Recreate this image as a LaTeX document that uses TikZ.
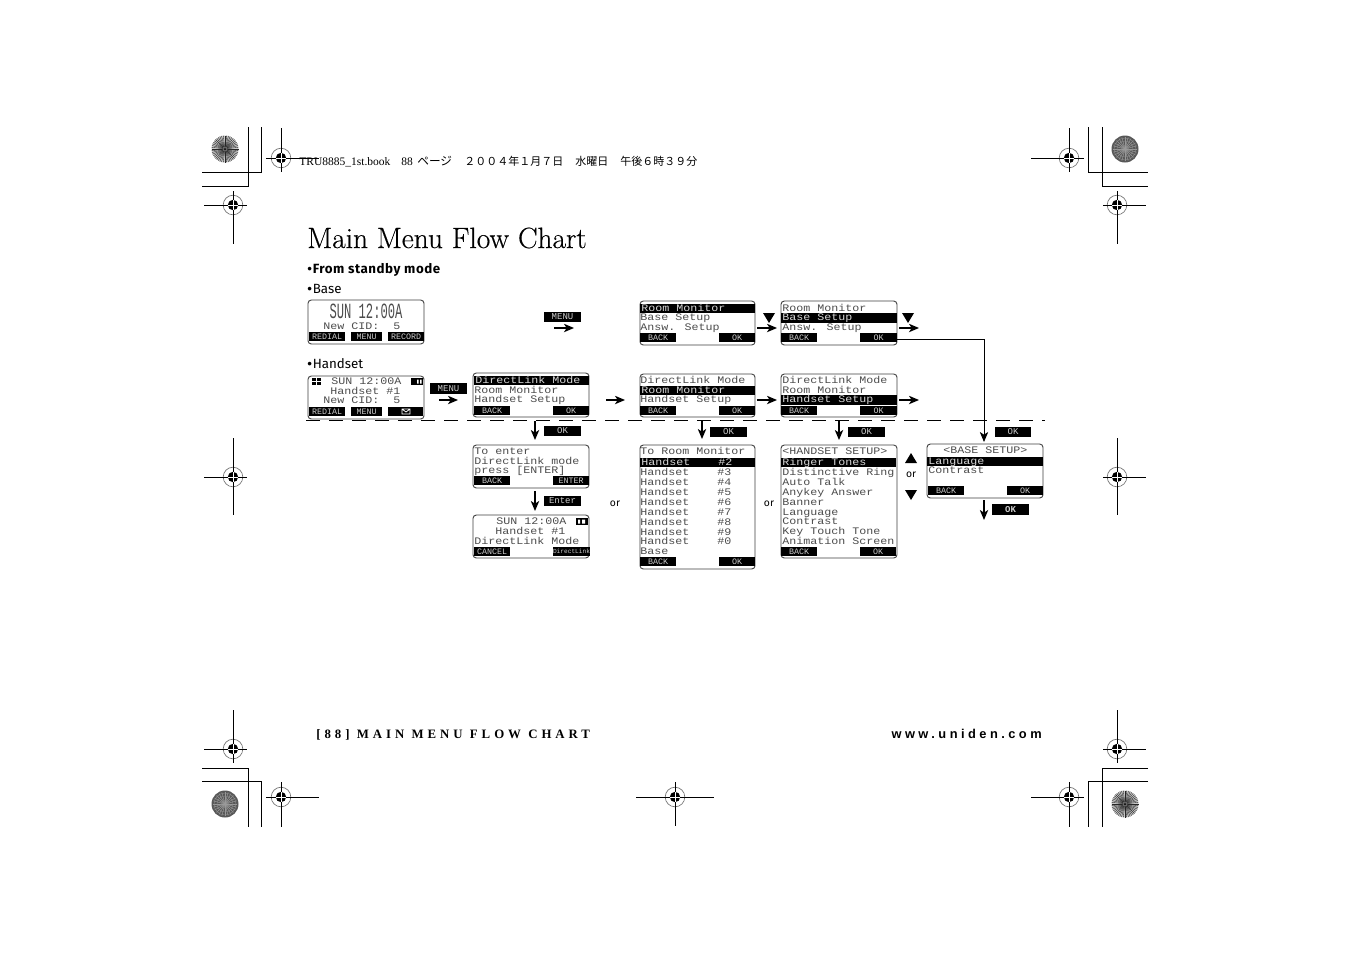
\documentclass[tikz,border=0pt]{standalone}
\usepackage{fontspec}
\usetikzlibrary{arrows.meta,calc}
\setmainfont{Latin Modern Roman}
\newfontfamily\titlefont[FakeBold=0.35]{Latin Modern Roman}
\newfontfamily\lcdfont[FakeStretch=1.167]{Liberation Mono}
\newfontfamily\keyfont{Liberation Mono}
\newfontfamily\uifont{Fira Sans}
\newfontfamily\uispaced[LetterSpace=4]{Fira Sans}
\newfontfamily\cjkfont{Noto Sans CJK JP}
\newfontfamily\serifb{Liberation Serif}
\newfontfamily\sansb{Liberation Sans}
\newcount\nid
\newcommand{\bigdot}{{\sansb\mdseries\char"2022}\kern0.5pt}
\tikzset{
  x=0.6pt,y=-0.6pt,
  lcdbox/.style={draw=black!75,line width=0.55pt,rounded corners=2pt,fill=white,inner sep=0pt},
  lcdtxt/.style={anchor=west,inner sep=0pt,text=black!70,text height=4.2pt,text depth=0.8pt,font=\lcdfont\fontsize{6}{6}\selectfont},
  lcdinv/.style={lcdtxt,text=white!85!black},
  keybox/.style={fill=black,inner sep=0pt,text=white!80!black,font=\keyfont\fontsize{5}{5}\selectfont},
  labbox/.style={fill=black,inner sep=0pt,text=white!80!black,font=\keyfont\fontsize{5.4}{5.4}\selectfont},
  flow/.style={draw=black,line width=0.75pt,-{Stealth[length=6pt,width=5pt,inset=1.6pt]}},
  flowthin/.style={draw=black,line width=0.5pt,-{Stealth[length=6pt,width=5pt,inset=1.6pt]}},
  tri/.style={fill=black,draw=none},
  ortext/.style={inner sep=0pt,font=\uifont\fontsize{6.2}{6.2}\selectfont},
  head/.style={inner sep=0pt,anchor=west},
  cropline/.style={draw=black,line width=0.55pt}
}
% screen outline: name x1 y1 x2 y2
\newcommand{\lcd}[5]{\node[lcdbox,minimum width={(#4-#2)*0.6pt},minimum height={(#5-#3)*0.6pt}] (#1) at ({(#2+#4)/2},{(#3+#5)/2}) {};}
% plain row
\newcommand{\row}[3]{\global\advance\nid by 1 \node[lcdtxt] (t\the\nid) at (#1,#2) {#3};}
% inverted row: x1 x2 y text
\newcommand{\hlrow}[4]{\fill[black] (#1,#3-4.7) rectangle (#2,#3+4.7); \global\advance\nid by 1 \node[lcdinv] (t\the\nid) at (#1+1,#3) {#4};}
% soft key
\newcommand{\softkey}[5]{\global\advance\nid by 1 \node[keybox,minimum width={(#2-#1)*0.6pt},minimum height={(#4-#3)*0.6pt}] (t\the\nid) at ({(#1+#2)/2},{(#3+#4)/2}) {#5};}
% black label
\newcommand{\labelbox}[5]{\global\advance\nid by 1 \node[labbox,minimum width={(#2-#1)*0.6pt},minimum height={(#4-#3)*0.6pt}] (t\the\nid) at ({(#1+#2)/2},{(#3+#4)/2}) {#5};}
% free arrow
\newcommand{\flowarrow}[5]{\coordinate (#1a) at (#2,#3); \coordinate (#1b) at (#4,#5); \draw[flow] (#1a) -- (#1b);}
\newcommand{\tridown}[2]{\fill[tri] (#1-6,#2-5) -- (#1+6,#2-5) -- (#1,#2+5) -- cycle;}
\newcommand{\triup}[2]{\fill[tri] (#1-6,#2+5) -- (#1+6,#2+5) -- (#1,#2-5) -- cycle;}
% registration mark cx cy xl xr yt yb
\newcommand{\regmark}[6]{%
  \draw[black!55,line width=0.4pt] (#1,#2) circle [radius=9.8];
  \fill[black] (#1,#2) circle [radius=5.2];
  \draw[cropline] (#3,#2) -- (#4,#2);
  \draw[cropline] (#1,#5) -- (#1,#6);
  \draw[white,line width=0.45pt] (#1-5.2,#2) -- (#1+5.2,#2) (#1,#2-5.2) -- (#1,#2+5.2);
}
% sunburst
\newcommand{\sunlight}[2]{%
  \fill[black!22] (#1,#2) circle [radius=13.5];
  \foreach \a in {0,7.5,...,352.5} \draw[black!85,line width=0.22pt] (#1,#2) -- +(\a:13.5);
  \fill[black!60] (#1,#2) circle [radius=2.5];
  \fill[black] (#1,#2) circle [radius=1];
}
\newcommand{\sundark}[2]{%
  \fill[black!66] (#1,#2) circle [radius=13.5];
  \foreach \a in {0,15,...,345} \draw[black!40,line width=0.3pt] (#1,#2) -- +(\a:12);
  \foreach \r in {4,8,11} \draw[black!45,line width=0.25pt] (#1,#2) circle [radius=\r];
}
\begin{document}
\begin{tikzpicture}
\useasboundingbox (0,0) rectangle (1351,954);
\fill[white] (0,0) rectangle (1351,954);

% crop corners
\draw[cropline] (248,127) -- (248,186) -- (202,186);
\draw[cropline] (261,127) -- (261,172) -- (202,172);
\draw[cropline] (1088,127) -- (1088,172) -- (1148,172);
\draw[cropline] (1102,127) -- (1102,186) -- (1148,186);
\draw[cropline] (202,768) -- (248,768) -- (248,827);
\draw[cropline] (202,781) -- (261,781) -- (261,827);
\draw[cropline] (1148,768) -- (1102,768) -- (1102,827);
\draw[cropline] (1148,781) -- (1088,781) -- (1088,827);

\sunlight{225}{149}
\sundark{1125}{149}
\sundark{225}{804}
\sunlight{1125}{804}

\regmark{281}{158}{266}{319}{128}{172}
\regmark{233}{205}{204}{247}{191}{244}
\regmark{1069}{158}{1031}{1084}{128}{172}
\regmark{1117}{205}{1103}{1146}{191}{244}
\regmark{233}{477}{204}{247}{438}{515}
\regmark{1117}{477}{1103}{1146}{438}{515}
\regmark{233}{749}{204}{247}{710}{763}
\regmark{281}{797}{266}{319}{782}{827}
\regmark{675}{797}{636}{714}{782}{826}
\regmark{1117}{749}{1103}{1146}{710}{763}
\regmark{1069}{797}{1031}{1084}{782}{827}

% header line
\node[head,font=\serifb\fontsize{6.9}{6.9}\selectfont] (h1) at (299,162) {TRU8885\_1st.book};
\node[head,font=\serifb\fontsize{6.9}{6.9}\selectfont] (h2) at (401,162) {88};
\node[head,font=\cjkfont\fontsize{7}{7}\selectfont] (h3) at (417,161) {ページ};
\node[head,font=\cjkfont\fontsize{6.6}{6.6}\selectfont] (h4) at (464,161) {２００４年１月７日};
\node[head,font=\cjkfont\fontsize{6.6}{6.6}\selectfont] (h5) at (575,161) {水曜日};
\node[head,font=\cjkfont\fontsize{6.6}{6.6}\selectfont] (h6) at (620,161) {午後６時３９分};

% title
\node[inner sep=0pt,anchor=base west,font=\titlefont\fontsize{17.6}{17.6}\selectfont] (title) at (307,248) {Main Menu Flow Chart};
\node[inner sep=0pt,anchor=base west,font=\uispaced\bfseries\fontsize{8}{8}\selectfont] (sub) at (307,273) {\bigdot From standby mode};
\node[inner sep=0pt,anchor=base west,font=\uifont\fontsize{8}{8}\selectfont] (lbase) at (307,293) {\bigdot Base};
\node[inner sep=0pt,anchor=base west,font=\uifont\fontsize{8}{8}\selectfont] (lhand) at (307,368) {\bigdot Handset};

% footer
\node[inner sep=0pt,anchor=base west] (foot1) at (316,738) {\fontspec[LetterSpace=31]{Liberation Serif Bold}\fontsize{7.7}{7.7}\selectfont [88] MAIN MENU FLOW CHART};
\node[inner sep=0pt,anchor=base east] (foot2) at (1042,738) {\fontspec[LetterSpace=27]{Liberation Sans Bold}\fontsize{7.7}{7.7}\selectfont www.uniden.com};

% dashed separator
\draw[black,line width=0.55pt,dash pattern=on 8.2pt off 5.6pt] (306,420.5) -- (1045,420.5);

% Base standby
\lcd{sbase}{308}{300}{424}{344}
\global\advance\nid by 1
\node[inner sep=0pt,text=black!70] (bigclock) at (366,311) {\scalebox{0.56}[1]{\keyfont\fontsize{13}{13}\selectfont SUN 12:00A}};
\row{323}{327}{New CID:~~5}
\softkey{309}{345}{332}{341}{REDIAL}
\softkey{351}{382}{332}{341}{MENU}
\softkey{388}{424}{332}{341}{RECORD}

% Handset standby
\lcd{shand}{308}{376}{424}{419}
\row{331}{382}{SUN 12:00A}
\row{330}{392}{Handset \#1}
\row{323}{401}{New CID:~~5}
\fill[black] (312,378) rectangle (321,385);
\draw[white,line width=0.25pt] (312,381.5) -- (321,381.5) (316.5,378) -- (316.5,385);
\fill[black] (411,378) rectangle (423,385);
\fill[white] (417,379.5) rectangle (418.5,383.5) (420,379.5) rectangle (421.5,383.5);
\softkey{309}{345}{407}{416}{REDIAL}
\softkey{351}{382}{407}{416}{MENU}
\softkey{388}{423}{407}{416}{}
\draw[white,line width=0.45pt] (402,409) rectangle (410,414) (402,409) -- (406,412) -- (410,409);

% DirectLink menu
\lcd{dl}{473}{373}{589}{417}
\hlrow{474}{589}{380.5}{DirectLink Mode}
\row{474}{390.5}{Room Monitor}
\row{474}{400}{Handset Setup}
\softkey{474}{510}{406}{415}{BACK}
\softkey{553}{589}{406}{415}{OK}

% base menu 1
\lcd{bm1}{640}{301}{755}{345}
\hlrow{640}{755}{308.5}{Room Monitor}
\row{640}{318}{Base Setup}
\row{640}{327.5}{Answ. Setup}
\softkey{640}{676}{333}{342}{BACK}
\softkey{719}{755}{333}{342}{OK}

% base menu 2
\lcd{bm2}{781}{301}{897}{345}
\row{782}{308.5}{Room Monitor}
\hlrow{781}{897}{318}{Base Setup}
\row{782}{327.5}{Answ. Setup}
\softkey{781}{817}{333}{342}{BACK}
\softkey{860}{897}{333}{342}{OK}

% handset menu 1
\lcd{hm1}{640}{374}{755}{417}
\row{640}{380.5}{DirectLink Mode}
\hlrow{640}{755}{390.5}{Room Monitor}
\row{640}{400}{Handset Setup}
\softkey{640}{676}{406}{415}{BACK}
\softkey{719}{755}{406}{415}{OK}

% handset menu 2
\lcd{hm2}{781}{374}{897}{417}
\row{782}{380.5}{DirectLink Mode}
\row{782}{390.5}{Room Monitor}
\hlrow{781}{897}{400}{Handset Setup}
\softkey{781}{817}{406}{415}{BACK}
\softkey{860}{897}{406}{415}{OK}

% To enter
\lcd{enter}{473}{445}{589}{488}
\row{474}{451.5}{To enter}
\row{474}{461.5}{DirectLink mode}
\row{474}{471}{press [ENTER]}
\softkey{474}{510}{476}{485}{BACK}
\softkey{553}{589}{476}{485}{ENTER}

% DirectLink result
\lcd{sunh}{473}{515}{589}{558}
\row{496}{522}{SUN 12:00A}
\row{495}{532}{Handset \#1}
\row{474}{541.5}{DirectLink Mode}
\fill[black] (576,518) rectangle (588,525);
\fill[white] (578,519.5) rectangle (580,523.5) (582,519.5) rectangle (585,523.5);
\softkey{474}{510}{547}{556}{CANCEL}
\global\advance\nid by 1
\node[keybox,font=\keyfont\fontsize{3.7}{3.7}\selectfont,minimum width={35*0.6pt},minimum height={9*0.6pt}] (t\the\nid) at (571.5,551.5) {DirectLink};

% Room monitor list
\lcd{rm}{640}{445}{755}{569}
\row{640}{452}{To Room Monitor}
\hlrow{640}{755}{462.5}{Handset~~~~\#2}
\row{640}{472.5}{Handset~~~~\#3}
\row{640}{482.5}{Handset~~~~\#4}
\row{640}{492.5}{Handset~~~~\#5}
\row{640}{502.5}{Handset~~~~\#6}
\row{640}{512.5}{Handset~~~~\#7}
\row{640}{522.5}{Handset~~~~\#8}
\row{640}{532.5}{Handset~~~~\#9}
\row{640}{541.5}{Handset~~~~\#0}
\row{640}{551.5}{Base}
\softkey{640}{676}{557}{566}{BACK}
\softkey{719}{755}{557}{566}{OK}

% Handset setup
\lcd{hs}{781}{445}{897}{558}
\row{782}{452}{<HANDSET SETUP>}
\hlrow{781}{896}{462.5}{Ringer Tones}
\row{782}{472.5}{Distinctive Ring}
\row{782}{482.5}{Auto Talk}
\row{782}{492.5}{Anykey Answer}
\row{782}{502.5}{Banner}
\row{782}{512.5}{Language}
\row{782}{522}{Contrast}
\row{782}{532}{Key Touch Tone}
\row{782}{542}{Animation Screen}
\softkey{781}{817}{547}{556}{BACK}
\softkey{860}{896}{547}{556}{OK}

% Base setup
\lcd{bs}{927}{444}{1043}{498}
\row{943}{451}{<BASE SETUP>}
\hlrow{927}{1043}{461.5}{Language}
\row{928}{471}{Contrast}
\softkey{928}{964}{486}{495}{BACK}
\softkey{1007}{1043}{486}{495}{OK}

% labels over arrows
\labelbox{544}{581}{312}{322}{MENU}
\labelbox{430}{467}{383}{394}{MENU}
\labelbox{544}{581}{426}{436}{OK}
\labelbox{710}{747}{427}{437}{OK}
\labelbox{848}{885}{427}{437}{OK}
\labelbox{995}{1031}{427}{437}{OK}
\labelbox{544}{581}{496}{506}{Enter}
\labelbox{992}{1029}{504}{515}{\bfseries OK}

% arrows
\flowarrow{a}{554}{328}{574}{328}
\flowarrow{b}{439}{400}{458}{400}
\flowarrow{c}{606}{400}{625}{400}
\flowarrow{d}{757}{328}{777}{328}
\flowarrow{e}{757}{400}{777}{400}
\flowarrow{f}{899}{328}{919}{328}
\flowarrow{g}{899}{400}{919}{400}
\flowarrow{h}{535}{421}{535}{440}
\flowarrow{i}{702}{421}{702}{439}
\flowarrow{j}{839}{421}{839}{440}
\flowarrow{k}{535}{491}{535}{511}
\flowarrow{l}{984}{500}{984}{520}
\coordinate (bstop) at (984,442);
\coordinate (bmout) at (897,339);
\draw[flowthin] (bmout) -- (984,339) -- (bstop);

\tridown{769}{318}
\tridown{908}{318}
\triup{911}{458}
\tridown{911}{495}

\node[ortext] (or1) at (615,504) {or};
\node[ortext] (or2) at (769,504) {or};
\node[ortext] (or3) at (911,475) {or};
\end{tikzpicture}
\end{document}
